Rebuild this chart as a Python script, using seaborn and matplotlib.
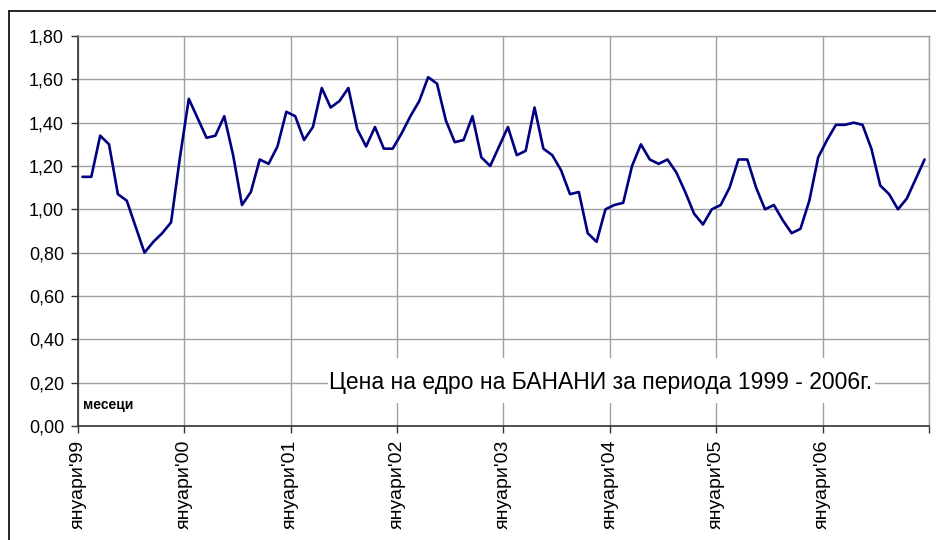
import numpy as np
import pandas as pd
import matplotlib
matplotlib.use("Agg")
import matplotlib.pyplot as plt
from matplotlib.lines import Line2D
from matplotlib.patches import Rectangle
import seaborn as sns

# monthly wholesale banana price, Jan 1999 - Dec 2006
prices = [
    1.15, 1.15, 1.34, 1.30, 1.07, 1.04, 0.92, 0.80, 0.85, 0.89, 0.94, 1.24,  # 1999
    1.51, 1.42, 1.33, 1.34, 1.43, 1.25, 1.02, 1.08, 1.23, 1.21, 1.29, 1.45,  # 2000
    1.43, 1.32, 1.38, 1.56, 1.47, 1.50, 1.56, 1.37, 1.29, 1.38, 1.28, 1.28,  # 2001
    1.35, 1.43, 1.50, 1.61, 1.58, 1.41, 1.31, 1.32, 1.43, 1.24, 1.20, 1.29,  # 2002
    1.38, 1.25, 1.27, 1.47, 1.28, 1.25, 1.18, 1.07, 1.08, 0.89, 0.85, 1.00,  # 2003
    1.02, 1.03, 1.20, 1.30, 1.23, 1.21, 1.23, 1.17, 1.08, 0.98, 0.93, 1.00,  # 2004
    1.02, 1.10, 1.23, 1.23, 1.10, 1.00, 1.02, 0.95, 0.89, 0.91, 1.04, 1.24,  # 2005
    1.32, 1.39, 1.39, 1.40, 1.39, 1.28, 1.11, 1.07, 1.00, 1.05, 1.14, 1.23,  # 2006
]
years = ["99", "00", "01", "02", "03", "04", "05", "06"]
year_labels = ["януари'" + y for y in years]
y_ticks = [0.0, 0.2, 0.4, 0.6, 0.8, 1.0, 1.2, 1.4, 1.6, 1.8]

df = pd.DataFrame({"месец": np.arange(len(prices)), "цена": prices})

sns.set_style("white")
plt.rcParams["font.family"] = ["Liberation Sans", "DejaVu Sans"]
plt.rcParams["text.color"] = "black"

fig = plt.figure(figsize=(9.36, 5.4), dpi=100)
ax = fig.add_axes([78 / 936, 114 / 540, 851 / 936, 390 / 540])

sns.lineplot(data=df, x="месец", y="цена", color="#000080", linewidth=1.9, ax=ax, zorder=3)

ax.set_xlim(-0.5, len(prices) - 0.5)
ax.set_ylim(0, 1.8)
ax.set_yticks(y_ticks)
ax.set_yticklabels([f"{v:.2f}".replace(".", ",") for v in y_ticks], fontsize=13, color="black")
xt = [-0.5 + 12 * k for k in range(len(years) + 1)]
ax.set_xticks(xt)
ax.set_xticklabels(year_labels + [""], rotation=90, fontsize=14, va="top", color="black")
ax.set_xlabel("")
ax.set_ylabel("")

ax.grid(True, color="#a0a0a0", linewidth=1.0)
ax.set_axisbelow(True)
ax.tick_params(axis="y", direction="out", length=5, width=1, color="#333333", pad=5, left=True)
ax.tick_params(axis="x", direction="out", length=5, width=1, color="#333333", pad=5, bottom=True)

for s in ["left", "bottom"]:
    ax.spines[s].set_color("#333333")
    ax.spines[s].set_linewidth(1.2)
for s in ["top", "right"]:
    ax.spines[s].set_color("#a0a0a0")
    ax.spines[s].set_linewidth(1.0)

# white box behind the caption
ax.add_patch(Rectangle((0.294, 0.059), 0.6425, 0.115, transform=ax.transAxes,
                       facecolor="white", edgecolor="none", zorder=2))
ax.text(0.6146, 0.112, "Цена на едро на БАНАНИ за периода 1999 - 2006г.",
        transform=ax.transAxes, ha="center", va="center", fontsize=16.5, zorder=4)
ax.text(0.006, 0.054, "месеци", transform=ax.transAxes, ha="left", va="center",
        fontsize=10, fontweight="bold", zorder=4)

# outer chart frame (left and top edges visible)
fig.add_artist(Line2D([8.5 / 936, 8.5 / 936], [0, 1 - 10.5 / 540], color="black", linewidth=1.2))
fig.add_artist(Line2D([8.5 / 936, 1], [1 - 10.5 / 540, 1 - 10.5 / 540], color="black", linewidth=1.2))

fig.savefig("out.png", dpi=100)
